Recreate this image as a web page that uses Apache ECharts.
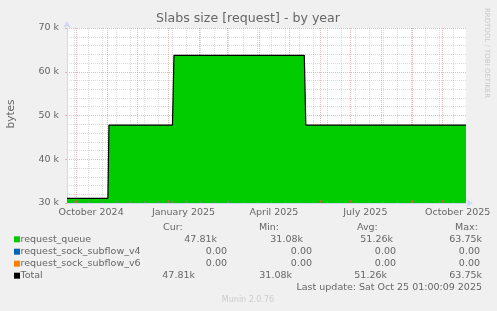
<!DOCTYPE html>
<html><head><meta charset="utf-8">
<script src="https://cdn.jsdelivr.net/npm/echarts@6/dist/echarts.min.js"></script>
<style>html,body{margin:0;padding:0;background:#f0f0f0;overflow:hidden}#c{width:497px;height:311px}</style>
</head><body><div id="c"></div>
<script>
// ---- data ----
const titleText = 'Slabs size [request] - by year';
const xStart = '2024-09-22T00:00:00Z';
const xEnd = '2025-10-24T06:00:00Z';
const sampleTimes = ['2024-09-22T00:00:00Z','2024-11-01T18:00:00Z','2024-11-02T18:00:00Z','2025-01-05T00:00:00Z','2025-01-06T12:00:00Z','2025-05-16T06:00:00Z','2025-05-17T18:00:00Z','2025-10-24T06:00:00Z'];
const queueValues = [31080, 31080, 47810, 47810, 63750, 63750, 47810, 47810];
const v4Values = [0, 0, 0, 0, 0, 0, 0, 0];
const v6Values = [0, 0, 0, 0, 0, 0, 0, 0];
const totalValues = [31080, 31080, 47810, 47810, 63750, 63750, 47810, 47810];
const monthStarts = ['2024-10-01','2024-11-01','2024-12-01','2025-01-01','2025-02-01','2025-03-01','2025-04-01','2025-05-01','2025-06-01','2025-07-01','2025-08-01','2025-09-01','2025-10-01'];
const labelDates = ['2024-10-16','2025-01-16','2025-04-16','2025-07-16','2025-10-16'];
const labelTexts = ['October 2024','January 2025','April 2025','July 2025','October 2025'];
const seriesNames = ['request_queue','request_sock_subflow_v4','request_sock_subflow_v6','Total'];
const seriesColors = ['#00cc00','#0066b3','#ff8000','#000000'];
const curCol = ['47.81k','0.00','0.00','47.81k'];
const minCol = ['31.08k','0.00','0.00','31.08k'];
const avgCol = ['51.26k','0.00','0.00','51.26k'];
const maxCol = ['63.75k','0.00','0.00','63.75k'];
const lastUpdate = 'Last update: Sat Oct 25 01:00:09 2025';
const footer = 'Munin 2.0.76';

// ---- build ----
const P = s => Date.parse(s.length === 10 ? s + 'T00:00:00Z' : s);
const xMin = P(xStart), xMax = P(xEnd);
const monthTs = monthStarts.map(P);
const labelTs = labelDates.map(P);
const minorTs = [];
for (let t = P('2024-09-29'); t < xMax; t += 14 * 86400000) minorTs.push(t);
const toPairs = vals => sampleTimes.map((t, i) => [P(t), vals[i]]);

const FONT = 'DejaVu Sans';
const FC = '#666666';
const AX = '#CFD6F8';
const MGRID = 'rgba(222,110,110,0.5)';
const GRID = 'rgba(150,150,150,0.35)';

const chart = echarts.init(document.getElementById('c'), null, {renderer: 'canvas'});
const baseX = {type: 'value', min: xMin, max: xMax, position: 'bottom', axisLabel: {show: false}, axisLine: {show: false}, axisTick: {show: false}, splitLine: {show: false}};

const graphics = [];
function txt(x, y, s, opts) {
  graphics.push({type: 'text', x: x, y: y, silent: true,
    style: Object.assign({text: s, font: '9.5px "' + FONT + '"', fill: FC, textVerticalAlign: 'middle', textAlign: 'left'}, opts || {})});
}
txt(248, 19, titleText, {font: '12.6px "' + FONT + '"', textAlign: 'center'});
graphics.push({type: 'text', x: 11, y: 114, rotation: Math.PI / 2, silent: true,
  style: {text: 'bytes', font: '10.5px "' + FONT + '"', fill: FC, textAlign: 'center', textVerticalAlign: 'middle'}});
graphics.push({type: 'text', x: 487, y: 53, rotation: -Math.PI / 2, silent: true,
  style: {text: 'RRDTOOL / TOBI OETIKER', font: '7px "' + FONT + '"', fill: '#c8c8c8', textAlign: 'center', textVerticalAlign: 'middle'}});
txt(163, 227.7, 'Cur:'); txt(259, 227.7, 'Min:'); txt(357, 227.7, 'Avg:'); txt(455, 227.7, 'Max:');
const rowY = [239.3, 251.7, 263.7, 275.7];
const curR = [217, 227, 227, 195], minR = [303, 312, 312, 292], avgR = [393, 396, 396, 387], maxR = [482, 480, 480, 482];
seriesNames.forEach((n, i) => {
  graphics.push({type: 'rect', shape: {x: 14, y: rowY[i] - 3, width: 6, height: 6}, style: {fill: seriesColors[i]}, silent: true});
  txt(20.5, rowY[i], n);
  txt(curR[i], rowY[i], curCol[i], {textAlign: 'right'});
  txt(minR[i], rowY[i], minCol[i], {textAlign: 'right'});
  txt(avgR[i], rowY[i], avgCol[i], {textAlign: 'right'});
  txt(maxR[i], rowY[i], maxCol[i], {textAlign: 'right'});
});
txt(482, 287.3, lastUpdate, {textAlign: 'right'});
txt(248, 300.3, footer, {textAlign: 'center', fill: '#cccccc', font: '8px "' + FONT + '"'});

chart.setOption({
  backgroundColor: '#f0f0f0',
  animation: false,
  grid: {left: 67, top: 28, width: 399, height: 175, containLabel: false, show: true, backgroundColor: '#ffffff', borderWidth: 0},
  xAxis: [
    Object.assign({}, baseX, {
      axisLine: {show: true, lineStyle: {color: AX, width: 1}, symbol: ['none', 'arrow'], symbolSize: [6, 7], symbolOffset: [0, 7]},
      axisTick: {show: false, customValues: monthTs},
      splitLine: {show: true, lineStyle: {color: MGRID, width: 1, type: [1, 1]}},
      axisLabel: {show: true, customValues: labelTs, color: FC, fontFamily: FONT, fontSize: 9.5, margin: 5,
        formatter: v => { const k = labelTs.indexOf(v); return k >= 0 ? labelTexts[k] : ''; }}
    }),
    Object.assign({}, baseX, {
      axisTick: {show: false, customValues: minorTs},
      splitLine: {show: true, lineStyle: {color: GRID, width: 1, type: [1, 1]}}
    }),
    Object.assign({}, baseX, {z: 10,
      axisTick: {show: true, inside: true, length: 3, customValues: monthTs, lineStyle: {color: 'rgba(230,80,80,0.8)'}}
    }),
    Object.assign({}, baseX, {z: 9,
      axisTick: {show: true, inside: true, length: 2, customValues: minorTs, lineStyle: {color: 'rgba(140,140,140,0.6)'}}
    })
  ],
  yAxis: {
    type: 'value', min: 30000, max: 70000, interval: 10000,
    axisLine: {show: true, lineStyle: {color: AX}, symbol: ['none', 'arrow'], symbolSize: [6, 7], symbolOffset: [0, 7]},
    axisTick: {show: true, length: 2, lineStyle: {color: MGRID}},
    axisLabel: {color: FC, fontFamily: FONT, fontSize: 9.5, margin: 8, formatter: v => (v / 1000) + ' k'},
    splitLine: {show: true, lineStyle: {color: MGRID, width: 1, type: [1, 1]}},
    minorTick: {show: false, splitNumber: 5},
    minorSplitLine: {show: true, lineStyle: {color: GRID, width: 1, type: [1, 1]}}
  },
  series: [
    {name: seriesNames[0], type: 'line', xAxisIndex: 0, data: toPairs(queueValues), stack: 'a', showSymbol: false,
      lineStyle: {width: 0}, areaStyle: {color: seriesColors[0], opacity: 1, origin: 'start'}, z: 2},
    {name: seriesNames[1], type: 'line', xAxisIndex: 0, data: toPairs(v4Values), stack: 'a', showSymbol: false,
      lineStyle: {width: 0}, areaStyle: {color: seriesColors[1], opacity: 1}, z: 2},
    {name: seriesNames[2], type: 'line', xAxisIndex: 0, data: toPairs(v6Values), stack: 'a', showSymbol: false,
      lineStyle: {width: 0}, areaStyle: {color: seriesColors[2], opacity: 1}, z: 2},
    {name: seriesNames[3], type: 'line', xAxisIndex: 0, data: toPairs(totalValues), showSymbol: false,
      lineStyle: {width: 1.2, color: seriesColors[3]}, z: 3}
  ],
  graphic: graphics
});
</script></body></html>
